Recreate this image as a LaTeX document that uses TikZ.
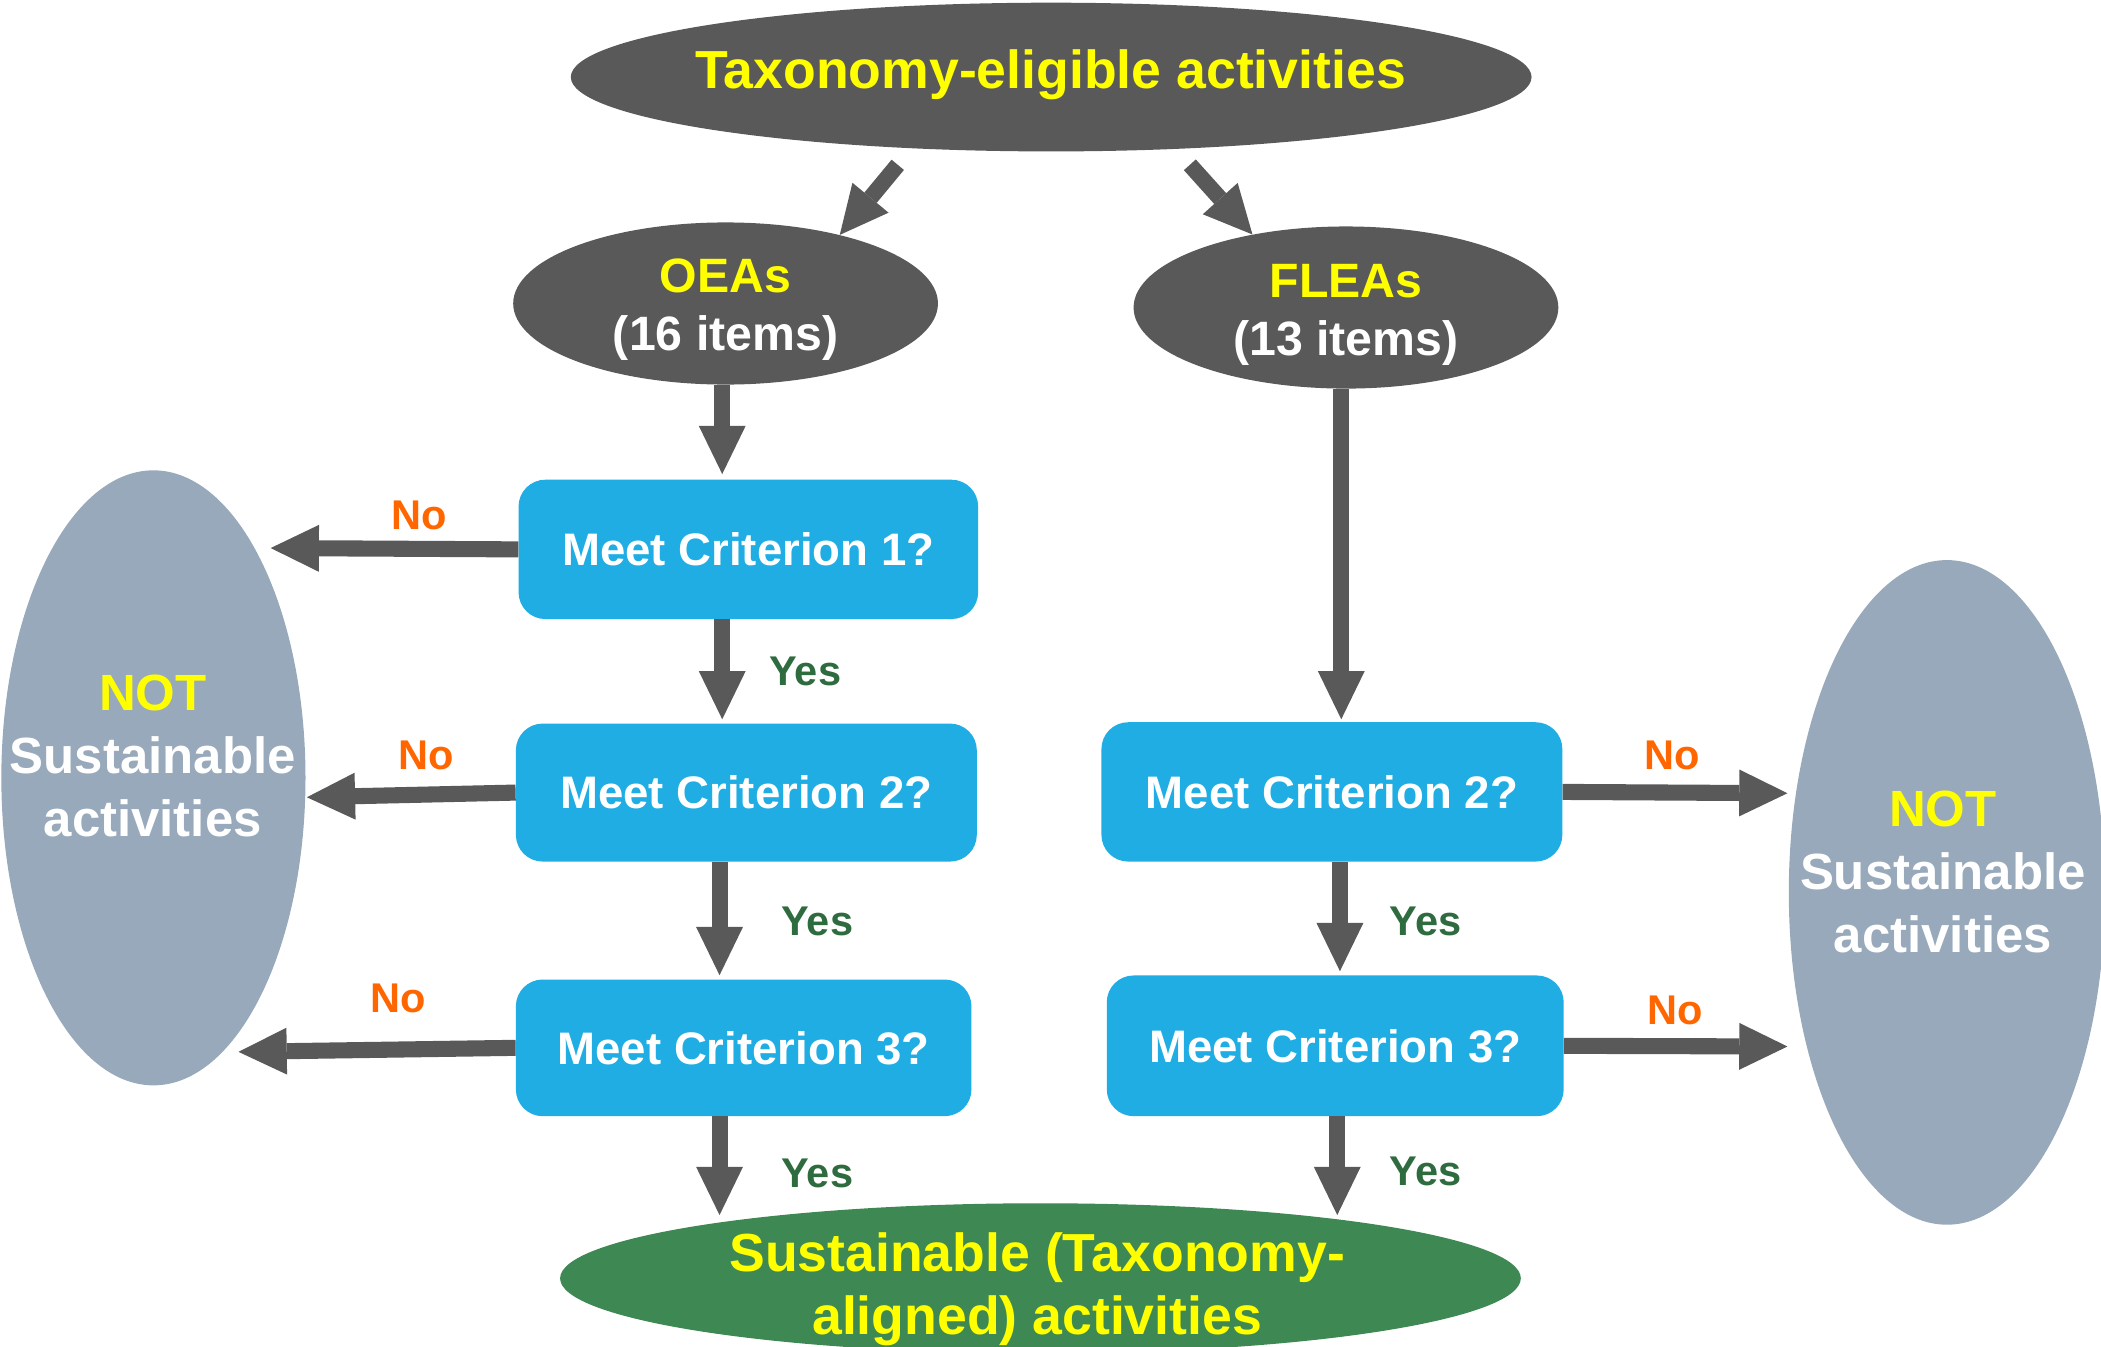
\documentclass[tikz,border=0pt]{standalone}
\usepackage{fontspec}
\setmainfont{Liberation Sans}
\usetikzlibrary{shapes.geometric,arrows.meta}
\definecolor{dgray}{HTML}{595959}
\definecolor{boxblue}{RGB}{31,173,228}
\definecolor{slate}{RGB}{151,169,186}
\definecolor{okgreen}{RGB}{62,136,83}
\definecolor{noorange}{HTML}{FF6600}
\definecolor{yesgreen}{HTML}{2E6B3F}
\definecolor{yel}{HTML}{FFFF00}
\tikzset{
  blk/.style={draw=dgray, line width=12pt, -{Triangle[width=35pt,length=36pt,line width=0pt]}},
  qbox/.style={rectangle, rounded corners=20pt, fill=boxblue, inner sep=0pt, text=white,
    font=\fontsize{34}{40}\selectfont\bfseries},
  oval/.style={ellipse, inner sep=0pt, draw=none},
  nolab/.style={text=noorange, font=\fontsize{31}{36}\selectfont\bfseries},
  yeslab/.style={text=yesgreen, font=\fontsize{31}{36}\selectfont\bfseries},
  bigtxt/.style={align=center, font=\fontsize{40}{47}\selectfont\bfseries},
  nottxt/.style={align=center, text=white, font=\fontsize{38}{47}\selectfont\bfseries},
  midtxt/.style={align=center, font=\fontsize{36}{43}\selectfont\bfseries}
}
\begin{document}
\begin{tikzpicture}[x=1pt,y=-1pt]
\useasboundingbox (0,0) rectangle (1568,1005);
% ellipses
\node[oval, fill=dgray, minimum width=717pt, minimum height=111pt] (top) at (784.5,57.5) {};
\node[bigtxt, text=yel] (toptxt) at (784,56) {Taxonomy-eligible activities};
\node[oval, fill=dgray, minimum width=317pt, minimum height=121pt] (oea) at (541.5,226.5) {};
\node[midtxt] (oeatxt) at (541.5,231) {\textcolor{yel}{OEAs}\\\textcolor{white}{(16 items)}};
\node[oval, fill=dgray, minimum width=317pt, minimum height=121pt] (flea) at (1004.5,229.5) {};
\node[midtxt] (fleatxt) at (1004.5,235) {\textcolor{yel}{FLEAs}\\\textcolor{white}{(13 items)}};
\node[oval, fill=slate, minimum width=227pt, minimum height=459pt] (notL) at (114.5,580.5) {};
\node[nottxt] (notLtxt) at (114,564) {\textcolor{yel}{NOT}\\Sustainable\\activities};
\node[oval, fill=slate, minimum width=236pt, minimum height=496pt] (notR) at (1453,666) {};
\node[nottxt] (notRtxt) at (1450,651) {\textcolor{yel}{NOT}\\Sustainable\\activities};
\node[oval, fill=okgreen, minimum width=717pt, minimum height=112pt] (sus) at (776.5,954) {};
\node[bigtxt, text=yel] (sustxt) at (774,962) {Sustainable (Taxonomy-\\aligned) activities};
% boxes
\node[qbox, minimum width=343pt, minimum height=104pt] (c1) at (558.5,410) {Meet Criterion 1?};
\node[qbox, minimum width=344pt, minimum height=103pt] (c2) at (557,591.5) {Meet Criterion 2?};
\node[qbox, minimum width=340pt, minimum height=102pt] (c3) at (555,782) {Meet Criterion 3?};
\node[qbox, minimum width=344pt, minimum height=104pt] (r2) at (994,591) {Meet Criterion 2?};
\node[qbox, minimum width=341pt, minimum height=105pt] (r3) at (996.5,780.5) {Meet Criterion 3?};
% free ends
\coordinate (t1) at (670,123);
\coordinate (t2) at (888,123);
\coordinate (n1) at (202,409);
\coordinate (n2) at (229,595);
\coordinate (n3) at (178,785);
\coordinate (n4) at (1334,592);
\coordinate (n5) at (1334,781);
% arrows
\draw[blk] (t1) -- (oea.31);
\draw[blk] (t2) -- (flea.142);
\draw[blk, shorten >=4pt] ([xshift=-2.5pt]oea.south) -- ([xshift=-19.5pt]c1.north);
\draw[blk, shorten >=2pt] ([xshift=-3.5pt]flea.south) -- ([xshift=7pt]r2.north);
\draw[blk, shorten >=3pt] ([xshift=-19.5pt]c1.south) -- ([xshift=-18pt]c2.north);
\draw[blk, shorten >=3pt] ([xshift=-20pt]c2.south) -- ([xshift=-18pt]c3.north);
\draw[blk, shorten >=3pt] ([xshift=6pt]r2.south) -- ([xshift=3.5pt]r3.north);
\draw[blk] ([xshift=-18pt]c3.south) -- ([xshift=-239.5pt,yshift=-9pt]sus.north);
\draw[blk] ([xshift=1.5pt]r3.south) -- ([xshift=221.5pt,yshift=-9pt]sus.north);
\draw[blk] (c1.west) -- (n1);
\draw[blk] (c2.west) -- (n2);
\draw[blk] (c3.west) -- (n3);
\draw[blk] (r2.east) -- (n4);
\draw[blk] (r3.east) -- (n5);
% labels
\node[nolab] (no1) at (313,385) {No};
\node[nolab] (no2) at (318,564) {No};
\node[nolab] (no3) at (297,745) {No};
\node[nolab] (no4) at (1248,564) {No};
\node[nolab] (no5) at (1250,754) {No};
\node[yeslab] (y1) at (601,501) {Yes};
\node[yeslab] (y2) at (610,688) {Yes};
\node[yeslab] (y3) at (610,876) {Yes};
\node[yeslab] (y4) at (1064,688) {Yes};
\node[yeslab] (y5) at (1064,874) {Yes};
\end{tikzpicture}
\end{document}
